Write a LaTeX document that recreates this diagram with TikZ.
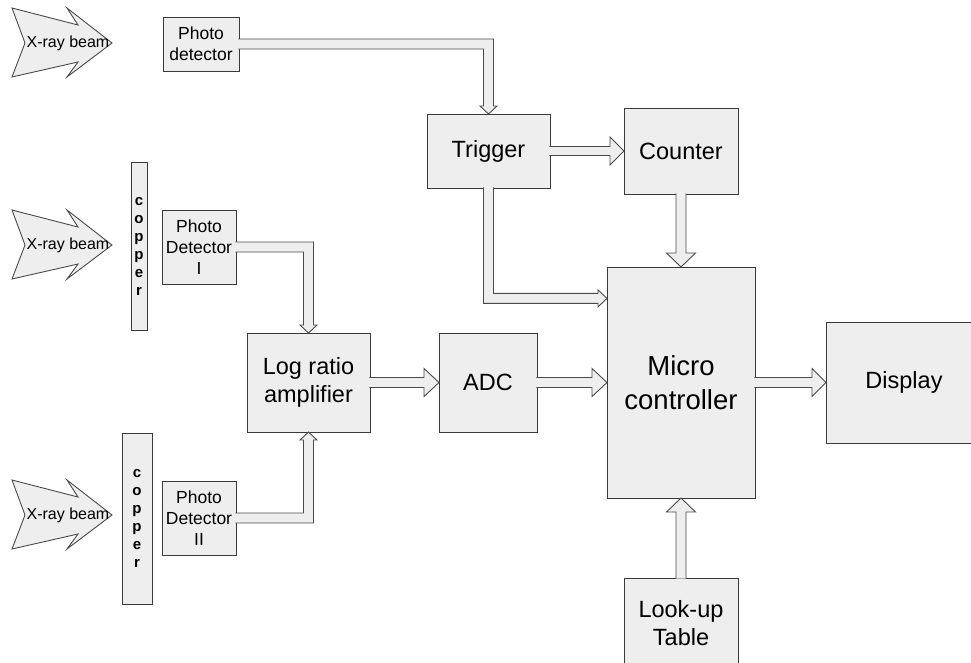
\documentclass[tikz,border=0pt]{standalone}
\usepackage{fontspec}
\setmainfont{Liberation Sans}
\usetikzlibrary{calc}
\definecolor{boxfill}{HTML}{EEEEEE}
\definecolor{boxline}{HTML}{3A3A3A}
\definecolor{arrline}{HTML}{4A4A4A}
\tikzset{
  blk/.style={draw=boxline, fill=boxfill, line width=1pt, anchor=north west,
    inner sep=0pt, outer sep=0pt, align=center,
    font=\fontsize{23.5}{28}\selectfont},
  smallblk/.style={blk, font=\fontsize{17.5}{21}\selectfont},
  copperblk/.style={blk, font=\fontsize{15}{18}\bfseries},
  afill/.style={fill=boxfill},
  aline/.style={draw=arrline, line width=0.9pt, line join=miter},
  beam/.style={draw=arrline, fill=boxfill, line width=0.9pt, line join=miter},
  beamtext/.style={font=\fontsize{16}{19}\selectfont, inner sep=0pt},
}
% straight block arrow: #1 from, #2 to, #3 shaft half width, #4 head half width, #5 head length
\newcommand\BlockArrow[5]{%
  \coordinate (ba-a) at ($(#1)!-0.7pt!(#2)$);
  \coordinate (ba-b) at ($(#2)!#5!(#1)$);
  \coordinate (ba-1) at ($(ba-a)!#3!90:(#2)$);
  \coordinate (ba-2) at ($(ba-b)!#3!90:(#2)$);
  \coordinate (ba-3) at ($(ba-b)!#4!90:(#2)$);
  \coordinate (ba-5) at ($(ba-b)!#4!-90:(#2)$);
  \coordinate (ba-6) at ($(ba-b)!#3!-90:(#2)$);
  \coordinate (ba-7) at ($(ba-a)!#3!-90:(#2)$);
  \fill[afill] (ba-1) -- (ba-2) -- (ba-3) -- (#2) -- (ba-5) -- (ba-6) -- (ba-7) -- cycle;
  \draw[aline] (ba-1) -- (ba-2) -- (ba-3) -- (#2) -- (ba-5) -- (ba-6) -- (ba-7);
}
% bent block arrow: #1 from, #2 corner, #3 to, #4 shaft half, #5 head half, #6 head length
\newcommand\BentArrow[6]{%
  \coordinate (bb-a) at ($(#1)!-0.7pt!(#2)$);
  \coordinate (bb-b) at ($(#3)!#6!(#2)$);
  \coordinate (bb-1) at ($(bb-a)!#4!90:(#2)$);
  \coordinate (bb-2) at ($(#2)!#4!-90:(#1) + (#2)!#4!90:(#3) - (#2)$);
  \coordinate (bb-3) at ($(bb-b)!#4!90:(#3)$);
  \coordinate (bb-4) at ($(bb-b)!#5!90:(#3)$);
  \coordinate (bb-6) at ($(bb-b)!#5!-90:(#3)$);
  \coordinate (bb-7) at ($(bb-b)!#4!-90:(#3)$);
  \coordinate (bb-8) at ($(#2)!#4!90:(#1) + (#2)!#4!-90:(#3) - (#2)$);
  \coordinate (bb-9) at ($(bb-a)!#4!-90:(#2)$);
  \fill[afill] (bb-1) -- (bb-2) -- (bb-3) -- (bb-4) -- (#3) -- (bb-6) -- (bb-7) -- (bb-8) -- (bb-9) -- cycle;
  \draw[aline] (bb-1) -- (bb-2) -- (bb-3) -- (bb-4) -- (#3) -- (bb-6) -- (bb-7) -- (bb-8) -- (bb-9);
}
\begin{document}
\begin{tikzpicture}[x=1pt,y=-1pt]
\useasboundingbox (0,0) rectangle (971,662);

% X-ray beams
\foreach \cy/\nm in {43/xr0,245/xr1,515/xr2}{
  \begin{scope}[shift={(0,\cy)}]
    \draw[beam] (12,-35) -- (78,-18) -- (67,-35) -- (112,0) -- (67,34) -- (78,19) -- (12,34) -- (25,0) -- cycle;
    \node[beamtext] (\nm) at (68,0) {X-ray beam};
  \end{scope}
}

% copper plates
\node[copperblk, minimum width=16pt, minimum height=168pt] (cu1) at (131,162) {c\\o\\p\\p\\e\\r};
\node[copperblk, minimum width=30pt, minimum height=171pt] (cu2) at (122,433) {c\\o\\p\\p\\e\\r};

% blocks
\node[smallblk, minimum width=76pt, minimum height=54pt] (pd0) at (163,17) {Photo\\detector};
\node[smallblk, minimum width=74pt, minimum height=74pt] (pd1) at (162,210) {Photo\\Detector\\I};
\node[smallblk, minimum width=74pt, minimum height=74pt] (pd2) at (162,481) {Photo\\Detector\\II};
\node[blk, minimum width=123pt, minimum height=74pt] (trig) at (427,114) {Trigger};
\node[blk, minimum width=114pt, minimum height=86pt] (cnt) at (624,108) {Counter};
\node[blk, minimum width=123pt, minimum height=99pt] (log) at (247,333) {Log ratio\\amplifier};
\node[blk, minimum width=98pt, minimum height=99pt] (adc) at (439,333) {ADC};
\node[blk, minimum width=148pt, minimum height=231pt, font=\fontsize{27.5}{34}\selectfont] (micro) at (607,267) {Micro\\controller};
\node[blk, minimum width=156pt, minimum height=121pt, text width=150pt] (disp) at (826,322) {Display};
\node[blk, minimum width=114pt, minimum height=90pt] (lut) at (624,578) {Look-up\\Table};

% connectors
\BentArrow{pd0.east}{trig.north |- pd0.east}{trig.north}{5pt}{8.5pt}{8pt}
\BentArrow{pd1.east}{log.north |- pd1.east}{log.north}{5pt}{8.5pt}{8pt}
\BentArrow{pd2.east}{log.south |- pd2.east}{log.south}{5pt}{8.5pt}{8pt}
\coordinate (mt) at ($(micro.north west)!0.136!(micro.south west)$);
\BentArrow{trig.south}{trig.south |- mt}{mt}{5pt}{8.5pt}{9pt}
\BlockArrow{trig.east}{cnt.west}{4.5pt}{14pt}{14pt}
\BlockArrow{cnt.south}{micro.north}{5pt}{14.5pt}{14pt}
\BlockArrow{log.east}{adc.west}{5pt}{14pt}{15pt}
\BlockArrow{adc.east}{micro.west}{5pt}{14pt}{15pt}
\BlockArrow{micro.east}{disp.west}{5pt}{14pt}{14pt}
\BlockArrow{lut.north}{micro.south}{5pt}{14.5pt}{14pt}
\end{tikzpicture}
\end{document}
